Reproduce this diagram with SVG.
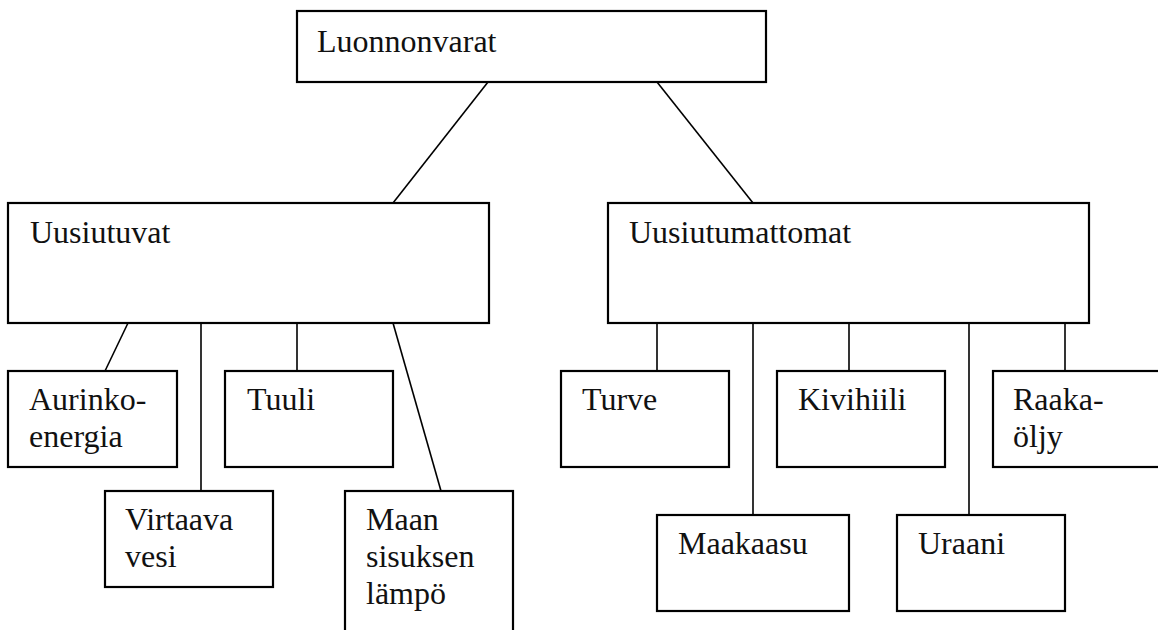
<svg xmlns="http://www.w3.org/2000/svg" width="1158" height="630" viewBox="0 0 1158 630">
<style>
.box{fill:#fff;stroke:#000;stroke-width:2.2}
.lbl{font-family:"Liberation Serif","Times New Roman",serif;font-size:32px;fill:#111}
.conn line{stroke:#000;stroke-width:1.6}
</style>
<rect width="1158" height="630" fill="#fff"/>
<g class="conn" id="connectors">
<line x1="488" y1="82" x2="393" y2="203"/>
<line x1="657" y1="82" x2="753" y2="203"/>
<line x1="128" y1="323" x2="105" y2="371"/>
<line x1="201" y1="323" x2="201" y2="491"/>
<line x1="297" y1="323" x2="297" y2="371"/>
<line x1="393" y1="323" x2="441" y2="491"/>
<line x1="657" y1="323" x2="657" y2="371"/>
<line x1="753" y1="323" x2="753" y2="515"/>
<line x1="849" y1="323" x2="849" y2="371"/>
<line x1="969" y1="323" x2="969" y2="515"/>
<line x1="1065" y1="323" x2="1065" y2="371"/>
</g>
<g id="luonnonvarat"><rect class="box" x="297" y="11" width="469" height="71"/><text class="lbl" x="317" y="52">Luonnonvarat</text></g>
<g id="uusiutuvat"><rect class="box" x="8" y="203" width="481" height="120"/><text class="lbl" x="30" y="243">Uusiutuvat</text></g>
<g id="uusiutumattomat"><rect class="box" x="608" y="203" width="481" height="120"/><text class="lbl" x="629" y="243">Uusiutumattomat</text></g>
<g id="aurinkoenergia"><rect class="box" x="8" y="371" width="169" height="96"/><text class="lbl" x="29" y="410">Aurinko-</text><text class="lbl" x="29" y="447">energia</text></g>
<g id="tuuli"><rect class="box" x="225" y="371" width="168" height="96"/><text class="lbl" x="247" y="410">Tuuli</text></g>
<g id="virtaava-vesi"><rect class="box" x="105" y="491" width="168" height="96"/><text class="lbl" x="125" y="530">Virtaava</text><text class="lbl" x="125" y="567">vesi</text></g>
<g id="maan-sisuksen-lampo"><rect class="box" x="345" y="491" width="168" height="170"/><text class="lbl" x="366" y="530">Maan</text><text class="lbl" x="366" y="567">sisuksen</text><text class="lbl" x="366" y="604">lämpö</text></g>
<g id="turve"><rect class="box" x="561" y="371" width="168" height="96"/><text class="lbl" x="582" y="410">Turve</text></g>
<g id="kivihiili"><rect class="box" x="777" y="371" width="168" height="96"/><text class="lbl" x="798" y="410">Kivihiili</text></g>
<g id="raakaoljy"><rect class="box" x="993" y="371" width="180" height="96"/><text class="lbl" x="1013" y="410">Raaka-</text><text class="lbl" x="1013" y="447">öljy</text></g>
<g id="maakaasu"><rect class="box" x="657" y="515" width="192" height="96"/><text class="lbl" x="678" y="554">Maakaasu</text></g>
<g id="uraani"><rect class="box" x="897" y="515" width="168" height="96"/><text class="lbl" x="918" y="554">Uraani</text></g>
</svg>
